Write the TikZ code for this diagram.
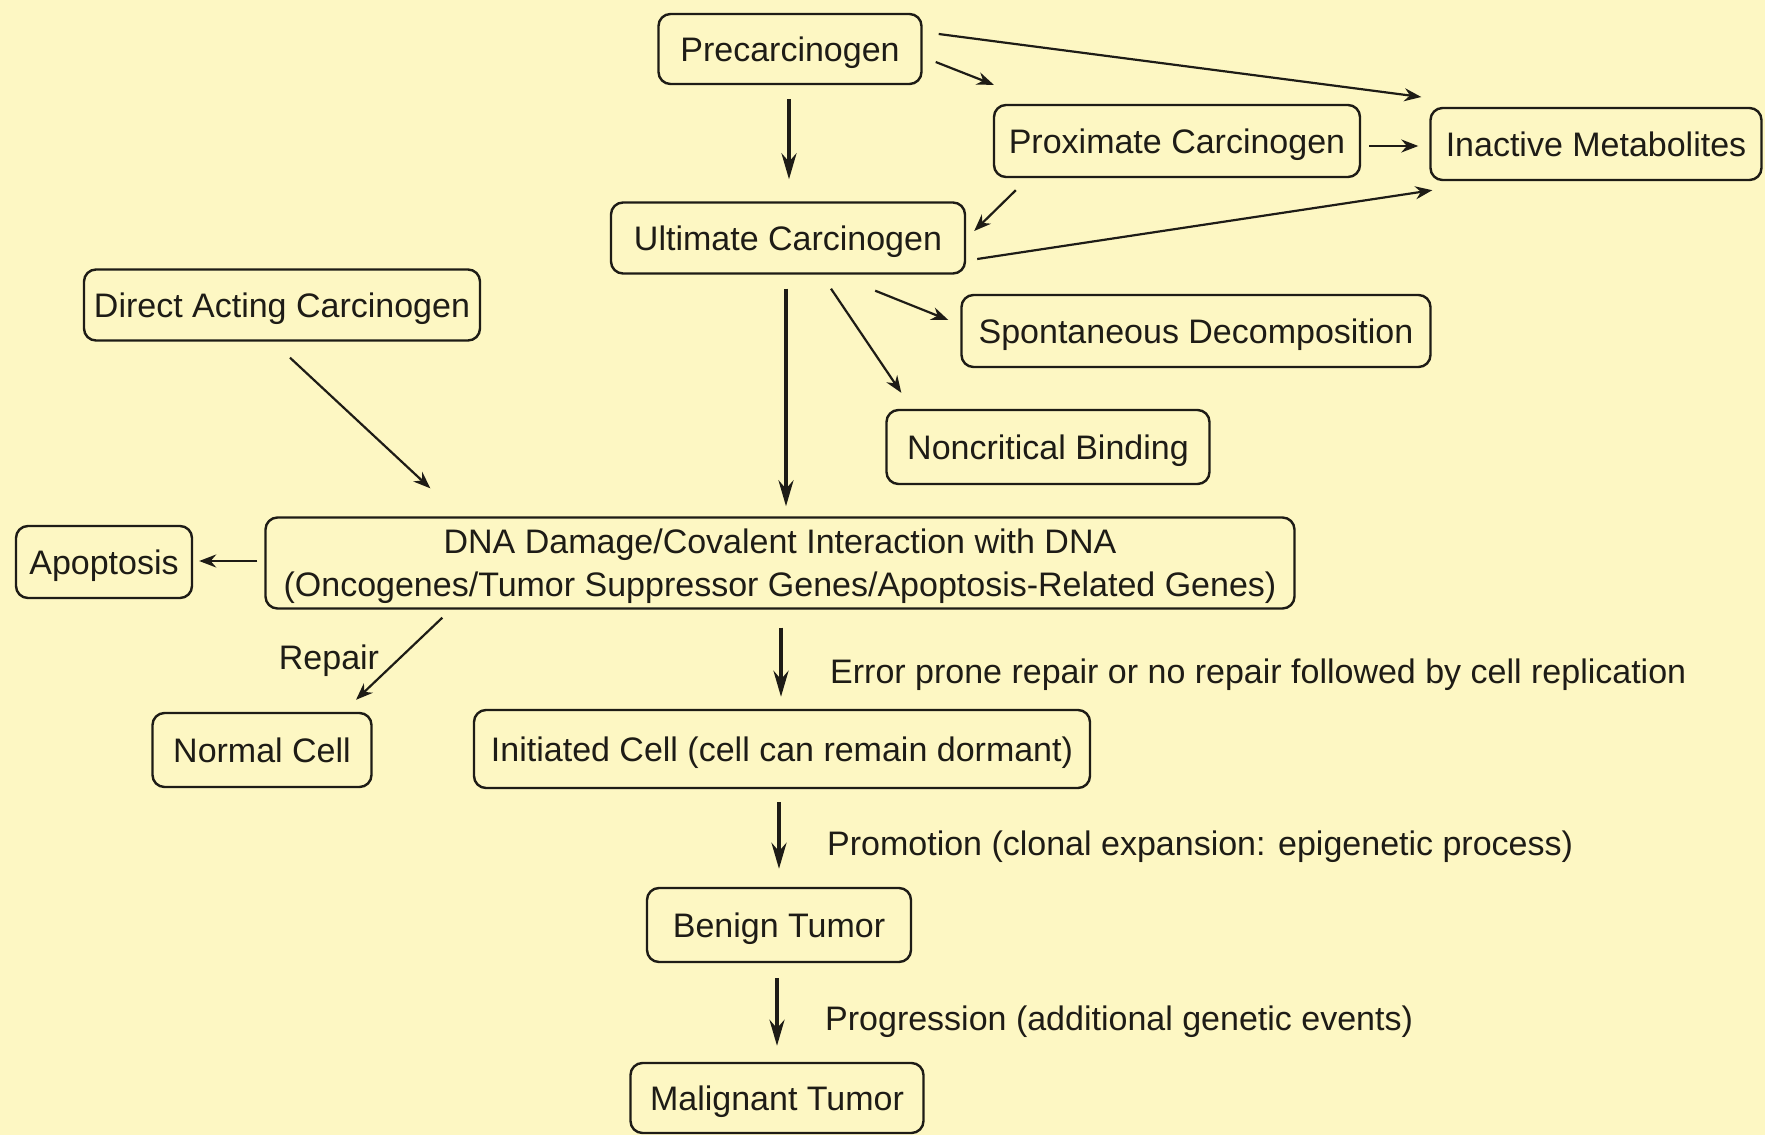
\documentclass[tikz,border=0pt]{standalone}
\usepackage{fontspec}
\setmainfont{Liberation Sans}
\usetikzlibrary{arrows.meta,calc}
\definecolor{bg}{RGB}{253,247,195}
\definecolor{ink}{RGB}{30,28,22}
\tikzset{
  box/.style={draw=ink, line width=2.4pt, rounded corners=12pt, fill=bg, text=ink,
    inner sep=0pt, text depth=0pt, align=center, font=\fontsize{34}{43}\selectfont},
  lbl/.style={text=ink, inner sep=0pt, text depth=0pt, font=\fontsize{34}{43}\selectfont},
  arr/.style={draw=ink, line width=2.2pt, -{Stealth[length=17pt,width=13pt]}},
  tarr/.style={draw=ink, line width=3.6pt, -{Stealth[length=26pt,width=15pt]}},
}
\begin{document}
\begin{tikzpicture}[x=1pt,y=-1pt]
\fill[bg] (0,0) rectangle (1765,1135);
\useasboundingbox (0,0) rectangle (1765,1135);

\node[box, minimum width=263pt, minimum height=70pt] (pre) at (790,49) {Precarcinogen};
\node[box, minimum width=366pt, minimum height=72pt] (prox) at (1177,141) {Proximate Carcinogen};
\node[box, minimum width=331pt, minimum height=72pt] (inact) at (1596,144) {Inactive Metabolites};
\node[box, minimum width=354pt, minimum height=71pt] (ult) at (788,238) {Ultimate Carcinogen};
\node[box, minimum width=396pt, minimum height=71pt] (direct) at (282,305) {Direct Acting Carcinogen};
\node[box, minimum width=469pt, minimum height=72pt] (spont) at (1196,331) {Spontaneous Decomposition};
\node[box, minimum width=323pt, minimum height=74pt] (noncrit) at (1048,447) {Noncritical Binding};
\node[box, minimum width=176pt, minimum height=72pt] (apop) at (104,562) {Apoptosis};
\node[box, minimum width=1029pt, minimum height=91pt] (dna) at (780,563) {DNA Damage/Covalent Interaction with DNA\\(Oncogenes/Tumor Suppressor Genes/Apoptosis-Related Genes)};
\node[box, minimum width=219pt, minimum height=74pt] (normal) at (262,750) {Normal Cell};
\node[box, minimum width=616pt, minimum height=78pt] (init) at (782,749) {Initiated Cell (cell can remain dormant)};
\node[box, minimum width=264pt, minimum height=74pt] (benign) at (779,925) {Benign Tumor};
\node[box, minimum width=293pt, minimum height=70pt] (malig) at (777,1098) {Malignant Tumor};

\node[lbl] (repair) at (329,657) {Repair};
\node[lbl, anchor=west] (errlbl) at (830,671) {Error prone repair or no repair followed by cell replication};
\node[lbl, anchor=west] (promlbl) at (827,843) {Promotion (clonal expansion: epigenetic process)};
\node[lbl, anchor=west] (proglbl) at (825,1018) {Progression (additional genetic events)};

% connectors
\draw[tarr] ($(pre.south)+(-1,14)$) -- ($(ult.north)+(1,-22)$);
\draw[arr] ($(pre.east)+(13,13)$) -- ($(prox.north west)+(1,-19)$);
\draw[arr] ($(pre.east)+(16,-15)$) -- ($(inact.west)+(-8,-47)$);
\draw[arr] ($(prox.east)+(8,5)$) -- ($(inact.west)+(-11,2)$);
\draw[arr] ($(prox.south west)+(23,12)$) -- ($(ult.east)+(8,-7)$);
\draw[arr] ($(ult.east)+(11,21)$) -- ($(inact.south west)+(3,9)$);
\draw[tarr] ($(ult.south)+(-2,14)$) -- ($(dna.north)+(6,-10)$);
\draw[arr] ($(ult.south east)+(-91,16)$) -- ($(spont.west)+(-12,-11)$);
\draw[arr] ($(ult.south)+(43,14)$) -- ($(noncrit.north west)+(16,-16)$);
\draw[arr] ($(direct.south)+(8,16)$) -- ($(dna.north west)+(166,-28)$);
\draw[arr] ($(dna.west)+(-7,-2)$) -- ($(apop.east)+(6,-1)$);
\draw[arr] ($(dna.south west)+(178,8)$) -- ($(normal.north)+(94,-12)$);
\draw[tarr] ($(dna.south)+(1,18)$) -- ($(init.north)+(-1,-12)$);
\draw[tarr] ($(init.south)+(-3,13)$) -- ($(benign.north)+(0,-18)$);
\draw[tarr] ($(benign.south)+(-2,15)$) -- ($(malig.north)+(0,-16)$);
\end{tikzpicture}
\end{document}
